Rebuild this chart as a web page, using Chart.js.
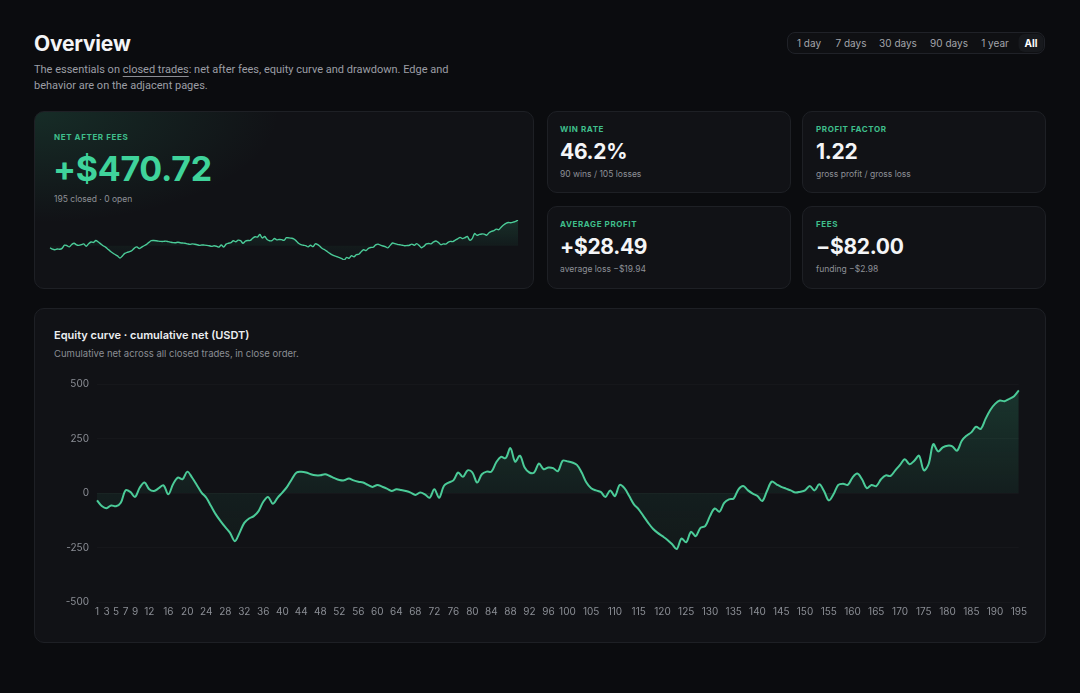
<!DOCTYPE html>
<html>
<head>
<meta charset="utf-8">
<script src="https://cdn.jsdelivr.net/npm/chart.js@4.4.1/dist/chart.umd.min.js"></script>
<style>
  html, body { margin: 0; padding: 0; }
  body {
    width: 1080px; height: 693px; position: relative; overflow: hidden;
    background: #0b0c0f; color: #e8e9ec;
    font-family: "Inter", "Noto Sans", sans-serif;
  }
  .abs { position: absolute; }
  h1 { position: absolute; left: 34px; top: 31px; margin: 0; font-size: 21px; font-weight: 700; color: #f4f5f7; letter-spacing: -0.2px; }
  .lead { left: 34px; top: 62px; white-space: nowrap; font-family: "Roboto", "Inter", sans-serif; font-size: 11px; line-height: 15.5px; color: #9c9ea5; }
  .lead u { text-decoration-color: #8a8c93; text-underline-offset: 3px; }
  .range { left: 787px; top: 32px; width: 258px; height: 22px; border: 1px solid #202228; border-radius: 8px; background: #0f1013; box-sizing: border-box; }
  .range span { position: absolute; top: 4px; font-size: 10px; color: #a3a5ab; transform: translateX(-50%); }
  .range span.on { color: #ffffff; font-weight: 700; top: 1px; padding: 3px 6px; border-radius: 6px; background: #17191d; }
  .card { position: absolute; background: #111216; border: 1px solid #1e2025; border-radius: 10px; box-sizing: border-box; }
  .hero { background: radial-gradient(ellipse 70% 90% at 0% 0%, rgba(44,150,108,0.20), rgba(17,18,22,0) 70%), #111216; }
  .lbl { position: absolute; font-size: 8px; font-weight: 700; letter-spacing: 0.6px; color: #3fbf8c; }
  .val { position: absolute; font-weight: 700; color: #f4f5f7; letter-spacing: -0.3px; }
  .sub { position: absolute; font-size: 8.5px; color: #8d9096; }
</style>
</head>
<body>
<h1>Overview</h1>
<div class="abs lead">The essentials on <u>closed trades</u>: net after fees, equity curve and drawdown. Edge and<br>behavior are on the adjacent pages.</div>

<div class="abs range" id="range"></div>

<div class="card hero" style="left:34px;top:111px;width:500px;height:178px;">
  <div class="lbl" style="left:19px;top:20px;">NET AFTER FEES</div>
  <div class="val" style="left:18px;top:36px;font-size:34px;color:#3fd39b;">+$470.72</div>
  <div class="sub" style="left:19px;top:82px;">195 closed · 0 open</div>
</div>
<div class="abs" style="left:48px;top:218px;width:472px;height:44px;"><canvas id="spark"></canvas></div>

<div class="card" style="left:547px;top:111px;width:244px;height:82px;">
  <div class="lbl" style="left:12px;top:12px;">WIN RATE</div>
  <div class="val" style="left:12px;top:27px;font-size:21px;">46.2%</div>
  <div class="sub" style="left:12px;top:57px;">90 wins / 105 losses</div>
</div>
<div class="card" style="left:802px;top:111px;width:244px;height:82px;">
  <div class="lbl" style="left:13px;top:12px;">PROFIT FACTOR</div>
  <div class="val" style="left:13px;top:27px;font-size:21px;">1.22</div>
  <div class="sub" style="left:13px;top:57px;">gross profit / gross loss</div>
</div>
<div class="card" style="left:547px;top:206px;width:244px;height:83px;">
  <div class="lbl" style="left:12px;top:12px;">AVERAGE PROFIT</div>
  <div class="val" style="left:12px;top:27px;font-size:21px;">+$28.49</div>
  <div class="sub" style="left:12px;top:57px;">average loss −$19.94</div>
</div>
<div class="card" style="left:802px;top:206px;width:244px;height:83px;">
  <div class="lbl" style="left:13px;top:12px;">FEES</div>
  <div class="val" style="left:13px;top:27px;font-size:21px;">−$82.00</div>
  <div class="sub" style="left:13px;top:57px;">funding −$2.98</div>
</div>

<div class="card" style="left:34px;top:308px;width:1012px;height:335px;">
  <div class="abs" style="left:19px;top:19px;font-size:11px;font-weight:600;color:#eceef1;">Equity curve · cumulative net (USDT)</div>
  <div class="abs" style="left:19px;top:39px;font-size:9.5px;color:#8a8d93;">Cumulative net across all closed trades, in close order.</div>
</div>
<div class="abs" style="left:53px;top:370px;width:978px;height:252px;"><canvas id="equity"></canvas></div>

<script>
// range buttons
const rangeLabels = ['1 day', '7 days', '30 days', '90 days', '1 year', 'All'];
const rangeCenters = [21, 63, 110, 161, 207, 243];

// cumulative net per closed trade (USDT)
const equity = [
  -34, -60, -70, -57, -61, -45, 12, 5, -18, 25,
  48, 17, 9, 22, 35, -6, 40, 71, 63, 98,
  71, 37, 2, -22, -60, -98, -129, -157, -183, -221,
  -183, -137, -117, -106, -83, -40, -18, -49, -22, 2,
  28, 63, 94, 97, 94, 86, 81, 81, 86, 78,
  68, 60, 58, 66, 58, 52, 48, 37, 28, 37,
  29, 20, 9, 17, 14, 9, 2, -9, 2, -6,
  -22, 17, -22, 32, 48, 58, 94, 74, 104, 94,
  48, 86, 98, 98, 140, 166, 160, 206, 144, 171,
  117, 94, 94, 135, 109, 117, 114, 100, 148, 145,
  140, 129, 94, 48, 22, 12, 5, -18, 12, -14,
  37, 22, -14, -52, -75, -106, -137, -164, -183, -198,
  -214, -234, -257, -209, -226, -178, -198, -160, -152, -106,
  -71, -86, -45, -29, -25, 17, 32, 12, -3, -14,
  -37, 9, 52, 40, 28, 20, 12, 2, 6, 12,
  32, 12, 40, 9, -34, -6, 37, 43, 37, 71,
  89, 63, 22, 37, 32, 63, 81, 78, 104, 129,
  155, 132, 148, 171, 104, 132, 224, 191, 209, 217,
  214, 194, 240, 263, 278, 304, 294, 340, 381, 409,
  424, 421, 432, 444, 470.72
];
const tradeNumbers = equity.map((v, i) => i + 1);

// trade numbers that get a label on the x axis
const xTickLabels = [1, 3, 5, 7, 9, 12, 16, 20, 24, 28, 32, 36, 40, 44, 48, 52, 56, 60, 64, 68, 72,
  76, 80, 84, 88, 92, 96, 100, 105, 110, 115, 120, 125, 130, 135, 140, 145, 150, 155, 160,
  165, 170, 175, 180, 185, 190, 195];
const yTicks = [-500, -250, 0, 250, 500];

const lineColor = '#4bcb98';

const rangeEl = document.getElementById('range');
rangeLabels.forEach((t, i) => {
  const s = document.createElement('span');
  s.textContent = t;
  s.style.left = rangeCenters[i] + 'px';
  if (t === 'All') s.className = 'on';
  rangeEl.appendChild(s);
});

function fillGradient(topAlpha, zeroAlpha) {
  return (ctx) => {
    const chart = ctx.chart;
    const area = chart.chartArea;
    if (!area) return 'rgba(0,0,0,0)';
    const y0 = chart.scales.y.getPixelForValue(0);
    const stop = Math.min(Math.max((y0 - area.top) / (area.bottom - area.top), 0), 1);
    const g = chart.ctx.createLinearGradient(0, area.top, 0, area.bottom);
    g.addColorStop(0, `rgba(62,200,145,${topAlpha})`);
    g.addColorStop(stop, `rgba(62,200,145,${zeroAlpha})`);
    g.addColorStop(1, 'rgba(62,200,145,0.01)');
    return g;
  };
}

Chart.defaults.font.family = '"Inter", "Noto Sans", sans-serif';
Chart.defaults.animation = false;

new Chart(document.getElementById('spark'), {
  type: 'line',
  data: {
    labels: tradeNumbers,
    datasets: [{
      data: equity,
      borderColor: lineColor,
      borderWidth: 1.4,
      pointRadius: 0,
      tension: 0.3,
      fill: 'origin',
      backgroundColor: fillGradient(0.16, 0.05)
    }]
  },
  options: {
    responsive: true,
    maintainAspectRatio: false,
    layout: { padding: 2 },
    plugins: { legend: { display: false }, tooltip: { enabled: false } },
    scales: {
      x: { display: false },
      y: { display: false, min: Math.min(...equity), max: Math.max(...equity) }
    }
  }
});

new Chart(document.getElementById('equity'), {
  type: 'line',
  data: {
    labels: tradeNumbers,
    datasets: [{
      data: equity,
      borderColor: lineColor,
      borderWidth: 2,
      pointRadius: 0,
      tension: 0.35,
      fill: 'origin',
      backgroundColor: fillGradient(0.2, 0.07)
    }]
  },
  options: {
    responsive: true,
    maintainAspectRatio: false,
    layout: { padding: 0 },
    plugins: { legend: { display: false }, tooltip: { enabled: false } },
    scales: {
      x: {
        grid: { display: false, drawTicks: false },
        border: { display: false },
        afterFit: (s) => { s.height = 20; },
        ticks: {
          autoSkip: false,
          maxRotation: 0,
          padding: 4,
          color: '#8b8e95',
          font: { size: 10 },
          callback: function (v) {
            const n = this.getLabelForValue(v);
            return xTickLabels.includes(n) ? String(n) : null;
          }
        }
      },
      y: {
        min: -500,
        max: 500,
        afterFit: (s) => { s.width = 44; },
        afterBuildTicks: (s) => { s.ticks = yTicks.map(v => ({ value: v })); },
        grid: { color: 'rgba(255,255,255,0.025)', drawTicks: false },
        border: { display: false },
        ticks: { color: '#8b8e95', font: { size: 10 }, padding: 8 }
      }
    }
  }
});
</script>
</body>
</html>
